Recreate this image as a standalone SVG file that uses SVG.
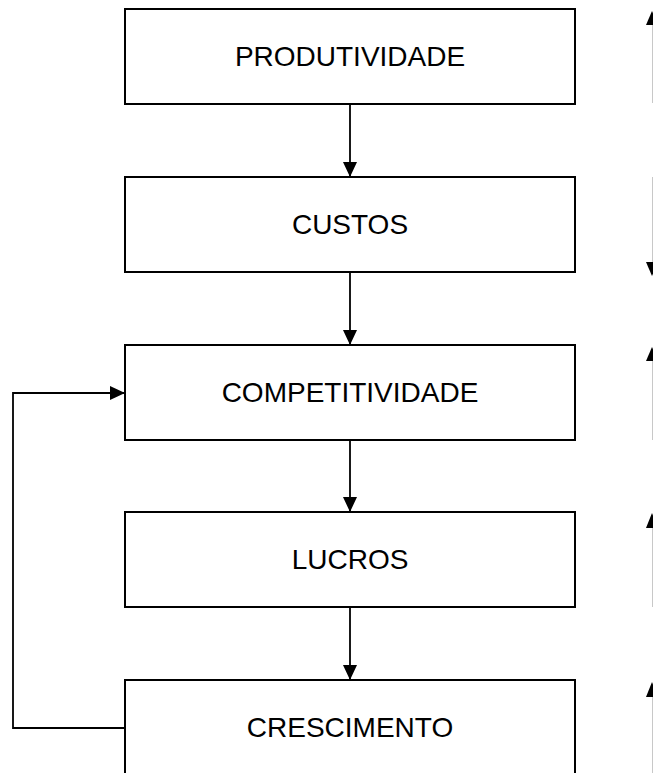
<svg xmlns="http://www.w3.org/2000/svg" width="653" height="773" viewBox="0 0 653 773">
  <style>
    .box { fill: #ffffff; stroke: #000000; stroke-width: 2; }
    .label { font-family: "Liberation Sans", Arial, sans-serif; font-size: 28px; fill: #000000; text-anchor: middle; }
    .link { fill: none; stroke: #000000; stroke-width: 1.8; }
    .side { fill: none; stroke: #c8c8c8; stroke-width: 1; }
    .head { fill: #000000; stroke: none; }
  </style>
  <defs>
    <marker id="arrow" viewBox="0 0 15 14" refX="15" refY="7" markerWidth="15" markerHeight="14" markerUnits="userSpaceOnUse" orient="auto">
      <path d="M0,0 L15,7 L0,14 Z" fill="#000000"/>
    </marker>
  </defs>
  <rect width="653" height="773" fill="#ffffff"/>

  <g id="connectors">
    <line class="link" x1="350" y1="104" x2="350" y2="177" marker-end="url(#arrow)"/>
    <line class="link" x1="350" y1="272" x2="350" y2="345" marker-end="url(#arrow)"/>
    <line class="link" x1="350" y1="440" x2="350" y2="512" marker-end="url(#arrow)"/>
    <line class="link" x1="350" y1="607" x2="350" y2="680" marker-end="url(#arrow)"/>
    <polyline class="link" points="125,728 13,728 13,393 125,393" marker-end="url(#arrow)"/>
  </g>

  <g id="trend-arrows">
    <line class="side" x1="652.5" y1="24" x2="652.5" y2="103"/>
    <polygon class="head" points="652,11 646,25 658,25"/>
    <line class="side" x1="652.5" y1="177" x2="652.5" y2="262"/>
    <polygon class="head" points="652,276 646,262 658,262"/>
    <line class="side" x1="652.5" y1="360" x2="652.5" y2="440"/>
    <polygon class="head" points="652,347 646,361 658,361"/>
    <line class="side" x1="652.5" y1="527" x2="652.5" y2="607"/>
    <polygon class="head" points="652,513 646,528 658,528"/>
    <line class="side" x1="652.5" y1="696" x2="652.5" y2="773"/>
    <polygon class="head" points="652,682 646,697 658,697"/>
  </g>

  <g id="produtividade">
    <rect class="box" x="125" y="9" width="450" height="95"/>
    <text class="label" x="350" y="66">PRODUTIVIDADE</text>
  </g>
  <g id="custos">
    <rect class="box" x="125" y="177" width="450" height="95"/>
    <text class="label" x="350" y="234">CUSTOS</text>
  </g>
  <g id="competitividade">
    <rect class="box" x="125" y="345" width="450" height="95"/>
    <text class="label" x="350" y="402">COMPETITIVIDADE</text>
  </g>
  <g id="lucros">
    <rect class="box" x="125" y="512" width="450" height="95"/>
    <text class="label" x="350" y="569">LUCROS</text>
  </g>
  <g id="crescimento">
    <rect class="box" x="125" y="680" width="450" height="100"/>
    <text class="label" x="350" y="737">CRESCIMENTO</text>
  </g>
</svg>
